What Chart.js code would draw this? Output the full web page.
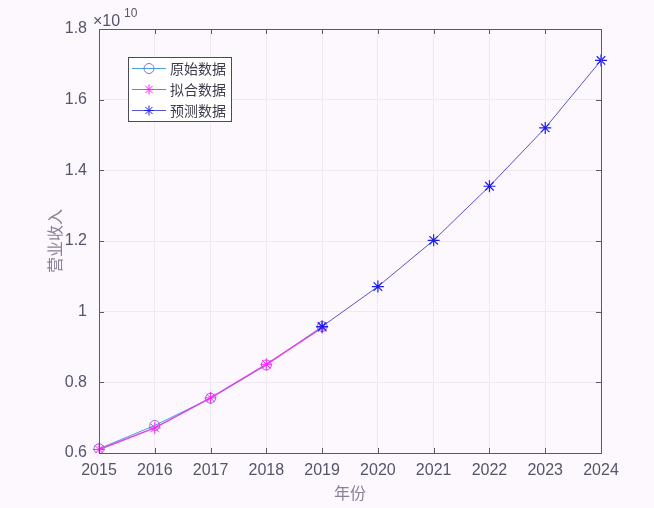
<!DOCTYPE html>
<html>
<head>
<meta charset="utf-8">
<script src="https://cdn.jsdelivr.net/npm/chart.js@4.4.1/dist/chart.umd.min.js"></script>
<style>
    body { margin: 0; background: #fdf8fd; }
    #wrap { width: 654px; height: 508px; }
</style>
</head>
<body>
<div id="wrap"><canvas id="revenueChart" width="654" height="508"></canvas></div>
<script>
// years on the x axis
const years = ['2015', '2016', '2017', '2018', '2019', '2020', '2021', '2022', '2023', '2024'];
// revenue, units of 1e10
const originalData = [0.612, 0.678, 0.755, 0.849, 0.958, null, null, null, null, null];
const fittedData = [0.610, 0.671, 0.756, 0.851, 0.955, null, null, null, null, null];
const predictedData = [null, null, null, null, 0.958, 1.071, 1.202, 1.355, 1.520, 1.711];
const yTicks = [0.6, 0.8, 1.0, 1.2, 1.4, 1.6, 1.8];
const seriesNames = ['原始数据', '拟合数据', '预测数据'];

const tickFont = { family: 'Liberation Sans, Arial, sans-serif', size: 16 };
const tickColor = '#55556a';
const titleColor = '#8a7f98';

// marker drawing, used for the legend box
function drawMarker(ctx, style, color, x, y, r) {
    ctx.save();
    ctx.strokeStyle = color;
    ctx.lineWidth = 1;
    ctx.beginPath();
    if (style === 'circle') {
        ctx.arc(x, y, r, 0, Math.PI * 2);
    } else {
        for (let i = 0; i < 4; i++) {
            const a = i * Math.PI / 4;
            ctx.moveTo(x - Math.cos(a) * r, y - Math.sin(a) * r);
            ctx.lineTo(x + Math.cos(a) * r, y + Math.sin(a) * r);
        }
    }
    ctx.stroke();
    ctx.restore();
}

const matlabLook = {
    id: 'matlabLook',
    beforeDraw(chart) {
        const ctx = chart.ctx;
        ctx.save();
        ctx.fillStyle = '#fdf8fd';
        ctx.fillRect(0, 0, chart.width, chart.height);
        ctx.restore();
    },
    afterDraw(chart) {
        const ctx = chart.ctx;
        const area = chart.chartArea;
        const xs = chart.scales.x;
        const ys = chart.scales.y;
        ctx.save();
        // box around the axes
        ctx.strokeStyle = '#5a5a6e';
        ctx.lineWidth = 1;
        ctx.strokeRect(area.left + 0.5, area.top + 0.5, area.right - area.left, area.bottom - area.top);
        // inward tick marks
        ctx.beginPath();
        years.forEach((yr, i) => {
            const px = Math.round(xs.getPixelForValue(i)) + 0.5;
            ctx.moveTo(px, area.bottom); ctx.lineTo(px, area.bottom - 5);
            ctx.moveTo(px, area.top); ctx.lineTo(px, area.top + 5);
        });
        yTicks.forEach(v => {
            const py = Math.round(ys.getPixelForValue(v)) + 0.5;
            ctx.moveTo(area.left, py); ctx.lineTo(area.left + 5, py);
            ctx.moveTo(area.right, py); ctx.lineTo(area.right - 5, py);
        });
        ctx.stroke();

        // exponent label
        ctx.fillStyle = tickColor;
        ctx.font = '16px Liberation Sans, Arial, sans-serif';
        ctx.textBaseline = 'alphabetic';
        ctx.fillText('×10', 93, 26);
        ctx.font = '12px Liberation Sans, Arial, sans-serif';
        ctx.fillText('10', 124, 17);

        // legend box
        const lx = 128, ly = 57, lw = 103, lh = 64;
        ctx.fillStyle = '#ffffff';
        ctx.fillRect(lx, ly, lw, lh);
        ctx.strokeStyle = '#4a4a5a';
        ctx.strokeRect(lx + 0.5, ly + 0.5, lw, lh);
        chart.data.datasets.forEach((ds, i) => {
            const cy = ly + 11 + i * 21;
            ctx.strokeStyle = ds.borderColor;
            ctx.beginPath();
            ctx.moveTo(lx + 4, cy + 0.5);
            ctx.lineTo(lx + 38, cy + 0.5);
            ctx.stroke();
            drawMarker(ctx, ds.pointStyle, ds.pointBorderColor, lx + 21, cy + 0.5, 5);
            ctx.fillStyle = '#3c3c4c';
            ctx.font = '14px "Noto Sans CJK SC", sans-serif';
            ctx.textBaseline = 'middle';
            ctx.fillText(seriesNames[i], lx + 42, cy + 1);
        });
        ctx.restore();
    }
};

const ctxRevenue = document.getElementById('revenueChart').getContext('2d');
const revenueChart = new Chart(ctxRevenue, {
    type: 'line',
    data: {
        labels: years,
        datasets: [{
            label: seriesNames[0],
            data: originalData,
            borderColor: '#4aa3d8',
            pointBorderColor: '#8a6fd8',
            pointStyle: 'circle',
            pointRadius: 5,
            pointBorderWidth: 1,
            pointBackgroundColor: 'rgba(0,0,0,0)',
            borderWidth: 1,
            order: 3
        }, {
            label: seriesNames[1],
            data: fittedData,
            borderColor: '#e040e8',
            pointBorderColor: '#ff20ff',
            pointStyle: 'star',
            pointRadius: 6,
            pointBorderWidth: 1,
            borderWidth: 1.5,
            order: 2
        }, {
            label: seriesNames[2],
            data: predictedData,
            borderColor: '#5656c8',
            pointBorderColor: '#1e1ef0',
            pointStyle: 'star',
            pointRadius: 6,
            pointBorderWidth: 1.2,
            borderWidth: 1,
            order: 1
        }]
    },
    options: {
        responsive: false,
        animation: false,
        spanGaps: false,
        layout: { padding: { top: 29, right: 53, left: 0, bottom: 0 } },
        plugins: {
            legend: { display: false },
            tooltip: { enabled: false }
        },
        scales: {
            x: {
                offset: false,
                grid: { color: '#f0e8f3', drawTicks: false },
                border: { display: false },
                ticks: { color: tickColor, font: tickFont, padding: 8, maxRotation: 0 },
                title: {
                    display: true,
                    text: '年份',
                    color: titleColor,
                    font: { family: '"Noto Sans CJK SC", sans-serif', size: 16 },
                    padding: { top: 0, bottom: 5 }
                },
                afterFit(scale) { scale.height = 55; }
            },
            y: {
                min: 0.6,
                max: 1.8,
                grid: { color: '#f0e8f3', drawTicks: false },
                border: { display: false },
                afterBuildTicks(scale) { scale.ticks = yTicks.map(v => ({ value: v })); },
                ticks: {
                    color: tickColor,
                    font: tickFont,
                    padding: 12,
                    callback: v => Number(v.toFixed(1)).toString()
                },
                title: {
                    display: true,
                    text: '营业收入',
                    color: titleColor,
                    font: { family: '"Noto Sans CJK SC", sans-serif', size: 16 },
                    padding: { top: 45, bottom: 0 }
                },
                afterFit(scale) { scale.width = 99; }
            }
        }
    },
    plugins: [matlabLook]
});
</script>
</body>
</html>
